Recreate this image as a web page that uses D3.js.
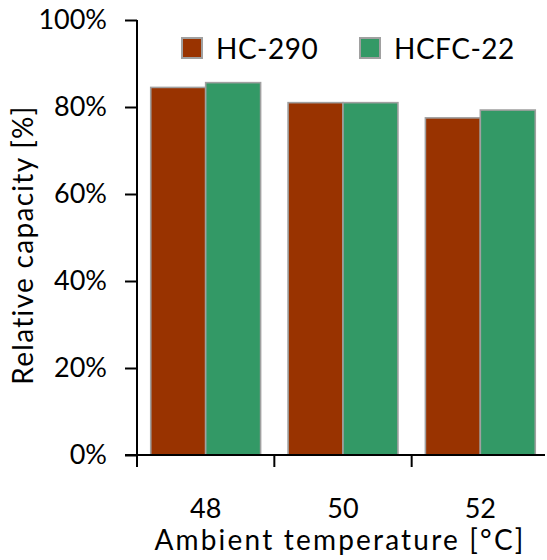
<!DOCTYPE html>
<html>
<head>
<meta charset="utf-8">
<script src="https://cdn.jsdelivr.net/npm/d3@7"></script>
<style>
  body { margin: 0; background: #fff; }
  svg text { font-family: Lato, "Open Sans", sans-serif; fill: #000; }
</style>
</head>
<body>
<div id="chart"></div>
<script>
const categories = ["48", "50", "52"];
const seriesNames = ["HC-290", "HCFC-22"];
const hc290 = [0.845, 0.81, 0.775];
const hcfc22 = [0.856, 0.81, 0.793];
const yTicks = [0, 0.2, 0.4, 0.6, 0.8, 1.0];
const colors = ["#993300", "#339966"];

const width = 547;
const height = 560;
const fontSize = 27;

const svg = d3.select("#chart").append("svg")
  .attr("width", width)
  .attr("height", height);

// plot area
const x0 = 137, x1 = 549, yTop = 20, yBottom = 455;

const x = d3.scaleBand()
  .domain(categories)
  .range([x0, x1])
  .paddingInner(0.2)
  .paddingOuter(0.1);

const xSub = d3.scaleBand()
  .domain(seriesNames)
  .range([0, x.bandwidth()]);

const y = d3.scaleLinear()
  .domain([0, 1])
  .range([yBottom, yTop]);

const data = categories.map(function(c, i){
  return { cat: c, values: [hc290[i], hcfc22[i]] };
});

// bars
const groups = svg.selectAll("g.group")
  .data(data)
  .join("g")
  .attr("class", "group")
  .attr("transform", d => `translate(${x(d.cat)},0)`);

groups.selectAll("rect")
  .data(d => d.values.map((v, i) => ({ name: seriesNames[i], v: v, i: i })))
  .join("rect")
  .attr("x", d => xSub(d.name))
  .attr("y", d => y(d.v))
  .attr("width", xSub.bandwidth())
  .attr("height", d => yBottom - y(d.v))
  .attr("fill", d => colors[d.i])
  .attr("stroke", "#a0a0a0")
  .attr("stroke-width", 1.6);

// y axis
const yAxis = svg.append("g")
  .attr("transform", `translate(${x0},0)`)
  .call(d3.axisLeft(y).tickValues(yTicks).tickFormat(d3.format(".0%")).tickSize(12).tickPadding(18));
yAxis.select(".domain").attr("stroke", "#000").attr("stroke-width", 2)
  .attr("d", `M0,${yTop}V${yBottom}`);
yAxis.selectAll(".tick line").attr("stroke", "#000").attr("stroke-width", 2);
yAxis.selectAll(".tick text").style("font-size", fontSize + "px");

// x axis: ticks at category boundaries
const boundaries = categories.map(c => x(c) - x.step() * x.paddingInner() / 2);
const xAxis = svg.append("g");
xAxis.append("line")
  .attr("x1", 125).attr("x2", 545)
  .attr("y1", yBottom).attr("y2", yBottom)
  .attr("stroke", "#000").attr("stroke-width", 2);
xAxis.selectAll("line.tick")
  .data(boundaries)
  .join("line")
  .attr("class", "tick")
  .attr("x1", d => d).attr("x2", d => d)
  .attr("y1", yBottom).attr("y2", yBottom + 12)
  .attr("stroke", "#000").attr("stroke-width", 2);
xAxis.selectAll("text")
  .data(categories)
  .join("text")
  .attr("x", d => x(d) + x.bandwidth() / 2)
  .attr("y", 518)
  .attr("text-anchor", "middle")
  .style("font-size", fontSize + "px")
  .text(d => d);

// axis titles
svg.append("text")
  .attr("x", 340)
  .attr("y", 550)
  .attr("text-anchor", "middle")
  .style("font-size", "28px")
  .style("letter-spacing", "2.2px")
  .text("Ambient temperature [°C]");

svg.append("text")
  .attr("transform", "translate(33,245) rotate(-90)")
  .attr("text-anchor", "middle")
  .style("font-size", "28px")
  .style("letter-spacing", "1.3px")
  .text("Relative capacity [%]");

// legend
const legendX = [182, 360];
const legend = svg.selectAll("g.legend")
  .data(seriesNames)
  .join("g")
  .attr("class", "legend")
  .attr("transform", (d, i) => `translate(${legendX[i]},38)`);
legend.append("rect")
  .attr("width", 20).attr("height", 20)
  .attr("fill", (d, i) => colors[i])
  .attr("stroke", "#a0a0a0")
  .attr("stroke-width", 2);
legend.append("text")
  .attr("x", 34)
  .attr("y", 21)
  .style("font-size", "28px")
  .style("letter-spacing", "0.5px")
  .text(d => d);
</script>
</body>
</html>
